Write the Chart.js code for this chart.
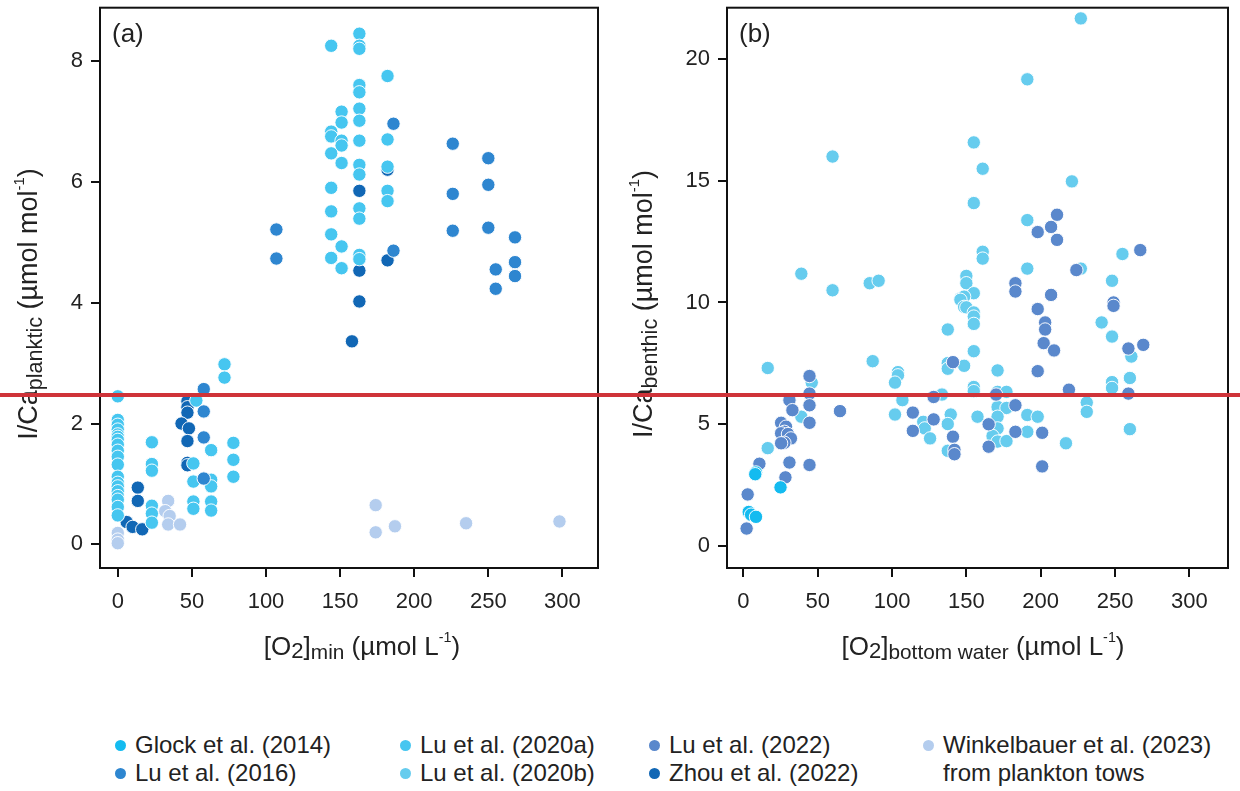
<!DOCTYPE html>
<html><head><meta charset="utf-8">
<script src="https://cdn.jsdelivr.net/npm/chart.js@4"></script>
<style>
body{margin:0;background:#fff;width:1240px;height:791px;overflow:hidden;position:relative;font-family:"Liberation Sans",Arial,sans-serif;}
#wa{position:absolute;left:0;top:0;width:620px;height:700px}
#wb{position:absolute;left:620px;top:0;width:620px;height:700px}
#redline{position:absolute;left:0;top:393px;width:1240px;height:4px;background:#cf3339}
.leg{position:absolute;font-size:24px;color:#222;white-space:nowrap;line-height:28px}
.dot{position:absolute;width:11px;height:11px;border-radius:50%}
</style></head>
<body>
<div id="wa"><canvas id="ca" width="620" height="700"></canvas></div>
<div id="wb"><canvas id="cb" width="620" height="700"></canvas></div>
<div id="legend"></div>
<div id="redline"></div>
<script>
// ---------- data ----------
const xTicks = [0, 50, 100, 150, 200, 250, 300];
const yTicksA = [0, 2, 4, 6, 8];
const yTicksB = [0, 5, 10, 15, 20];

const seriesNames = ["Glock et al. (2014)", "Lu et al. (2016)", "Lu et al. (2020a)", "Lu et al. (2020b)",
  "Lu et al. (2022)", "Zhou et al. (2022)", "Winkelbauer et al. (2023)"];
const seriesColors = ["#14bbf0", "#2e86d0", "#46c6f0", "#66ccee", "#5a88cc", "#1167b5", "#b4cdee"];

// panel (a): planktic
const lu2016A = [[107,5.21],[107,4.73],[186,6.96],[186,4.86],[226,6.63],[226,5.80],[226,5.19],[250,6.39],[250,5.95],[250,5.24],[268,5.08],[268,4.67],[268,4.44],[255,4.55],[255,4.23],[58,2.57],[58,2.2],[58,1.77],[58,1.09]];
const lu2020aA = [[144,8.25],[163,8.45],[163,8.25],[163,8.2],[182,7.75],[163,7.6],[163,7.48],[151,7.16],[151,6.98],[163,7.21],[163,7.01],[144,6.83],[144,6.75],[151,6.68],[151,6.6],[163,6.68],[182,6.70],[144,6.47],[151,6.31],[163,6.28],[163,6.12],[182,6.25],[144,5.9],[182,5.85],[182,5.68],[144,5.51],[163,5.56],[163,5.39],[144,5.13],[151,4.93],[144,4.74],[151,4.57],[163,4.79],[163,4.72],
  [0,2.45],[0,2.06],[0,1.98],[0,1.9],[0,1.82],[0,1.78],[0,1.73],[0,1.65],[0,1.55],[0,1.45],[0,1.32],[0,1.12],[0,1.02],[0,0.96],[0,0.88],[0,0.8],[0,0.74],[0,0.62],[0,0.48],
  [23,1.69],[23,1.33],[23,1.22],[23,0.64],[23,0.51],[23,0.36],
  [53,2.38],[51,1.34],[51,1.04],[51,0.71],[51,0.59],
  [63,1.56],[63,1.07],[63,0.96],[63,0.71],[63,0.56],
  [72,2.98],[72,2.76],[78,1.68],[78,1.40],[78,1.12]];
const zhouA = [[163,5.85],[182,6.2],[163,4.53],[182,4.70],[163,4.02],[158,3.36],[13.5,0.94],[13.5,0.72],[6,0.37],[10,0.29],[16.5,0.25],[47,2.37],[47,2.27],[47,2.18],[43,2.0],[48,1.92],[47,1.71],[47,1.35],[47,1.31]];
const winkelA = [[0,0.19],[0,0.08],[0,0.02],[34,0.72],[32,0.55],[35,0.47],[34,0.33],[42,0.33],[174,0.65],[174,0.2],[187,0.30],[235,0.35],[298,0.38]];

// panel (b): benthic
const glockB = [[8.5,3.02],[8,2.95],[25,2.41],[3.6,1.4],[5.2,1.29],[8.5,1.2]];
const lu2022B = [[211,13.6],[207,13.1],[198,12.89],[211,12.57],[267,12.15],[224,11.33],[183,10.79],[183,10.45],[207,10.31],[249,10.0],[249,9.86],[198,9.73],[203,9.18],[203,8.89],[202,8.33],[209,8.03],[259,8.11],[269,8.26],[198,7.18],[219,6.42],[259,6.26],[170,6.22],[183,5.78],[128,6.12],[141,7.55],[114,5.48],[128,5.2],[114,4.73],[141,4.49],[142,3.95],[142,3.77],[165,5.0],[165,4.08],[183,4.69],[201,4.65],[201,3.27],[65,5.54],[44.5,6.98],[44.5,6.26],[44.5,5.78],[44.5,5.06],[44.5,3.33],[31,5.99],[33,5.58],[25.4,5.06],[28.7,4.9],[27.6,4.69],[25.4,4.63],[30,4.6],[32,4.42],[27.6,4.24],[25.4,4.22],[31,3.43],[28.3,2.82],[10.8,3.38],[2.9,2.12],[2.2,0.72]];
const lu2020bB = [[227,21.66],[191,19.16],[60,15.99],[155,16.57],[161,15.49],[221,14.97],[155,14.08],[191,13.38],[161,12.08],[161,11.8],[255,11.99],[191,11.39],[227,11.39],[39,11.18],[60,10.5],[85,10.79],[91,10.89],[248,10.89],[150,11.09],[150,10.79],[155,10.38],[146,10.16],[148.5,10.24],[16.4,7.31],[16.4,4.02],[39,5.31],[46,6.71],[87,7.59],[104,7.14],[104,7.01],[102,6.71],[107,5.99],[102,5.4],[137.5,8.89],[137.5,7.51],[137.5,7.28],[148.5,7.4],[146,10.11],[148.5,9.82],[150,9.8],[155,9.59],[155,9.42],[155,9.12],[155,8.0],[155,6.53],[155,6.36],[157.5,5.31],[133.6,6.22],[121,5.1],[122,4.83],[125.6,4.42],[139.5,5.4],[137.5,5.01],[137.5,3.91],[171,7.21],[171,6.33],[177,6.33],[171,5.71],[177,5.67],[171,5.31],[171,4.83],[167.6,4.52],[171,4.29],[177,4.31],[191,5.38],[198,5.31],[191,4.69],[217,4.22],[231,5.89],[231,5.51],[241,9.18],[248,8.6],[248,6.73],[248,6.49],[261,7.78],[260,6.9],[260,4.8]];

// ---------- helpers ----------
const FONT = '"Liberation Sans", Arial, sans-serif';
function toPts(arr){ return arr.map(p => ({x:p[0], y:p[1]})); }
function ds(data, idx){
  return {label: seriesNames[idx], data: toPts(data), backgroundColor: seriesColors[idx],
    borderColor: 'rgba(255,255,255,0.95)', borderWidth: 1, pointRadius: 6.7, pointHoverRadius: 6.7};
}
const styles = {n:{s:1,dy:0}, sub:{s:0.8,dy:0.22}, sub2:{s:0.85,dy:0.15}, sup:{s:0.55,dy:-0.38}};
function drawRich(ctx, parts, cx, cy, size){
  let w = 0;
  parts.forEach(p => { ctx.font = (size*styles[p[1]].s) + 'px ' + FONT; w += ctx.measureText(p[0]).width; });
  let x = cx - w/2;
  ctx.textBaseline = 'middle'; ctx.textAlign = 'left';
  parts.forEach(p => { const st = styles[p[1]]; ctx.font = (size*st.s) + 'px ' + FONT;
    ctx.fillText(p[0], x, cy + st.dy*size); x += ctx.measureText(p[0]).width; });
}

function panelPlugin(label, xParts, yParts, xTitleCx, yTitleX){
  return {id:'panel', afterDraw(chart){
    const {ctx, chartArea:a} = chart;
    ctx.save();
    ctx.strokeStyle = '#111'; ctx.lineWidth = 2;
    ctx.strokeRect(a.left, a.top, a.right-a.left, a.bottom-a.top);
    ctx.fillStyle = '#222';
    ctx.font = '26px ' + FONT; ctx.textAlign='left'; ctx.textBaseline='middle';
    ctx.fillText(label, a.left + 12, a.top + 27);
    drawRich(ctx, xParts, xTitleCx, 648, 26);
    ctx.translate(yTitleX, 304); ctx.rotate(-Math.PI/2);
    drawRich(ctx, yParts, 0, 0, 27);
    ctx.restore();
  }};
}

function makeChart(id, datasets, xr, yr, yTicks, yWidth, padRight, plugin){
  const tickSetter = vals => s => { s.ticks = vals.map(v => ({value:v})); };
  return new Chart(document.getElementById(id), {
    type:'scatter',
    data:{datasets},
    options:{
      responsive:false, animation:false, events:[],
      layout:{padding:{top:5, right:padRight, left:0, bottom:0}},
      plugins:{legend:{display:false}, tooltip:{enabled:false}},
      scales:{
        x:{type:'linear', min:xr[0], max:xr[1],
          afterBuildTicks: tickSetter(xTicks),
          afterFit: s => { s.height = 132; s.paddingLeft = 0; s.paddingRight = 0; },
          grid:{drawOnChartArea:false, drawTicks:true, tickLength:9, color:'#111', lineWidth:2},
          border:{display:true, color:'#111', width:2},
          ticks:{font:{size:22, family:FONT}, color:'#222', padding:12, maxRotation:0, autoSkip:false}},
        y:{type:'linear', min:yr[0], max:yr[1],
          afterBuildTicks: tickSetter(yTicks),
          afterFit: s => { s.width = yWidth; s.paddingTop = 0; s.paddingBottom = 0; },
          grid:{drawOnChartArea:false, drawTicks:true, tickLength:9, color:'#111', lineWidth:2},
          border:{display:true, color:'#111', width:2},
          ticks:{font:{size:22, family:FONT}, color:'#222', padding:8, autoSkip:false}}
      }
    },
    plugins:[plugin]
  });
}

makeChart('ca', [ds(lu2016A,1), ds(lu2020aA,2), ds(zhouA,5), ds(winkelA,6)],
  [-12, 324], [-0.39, 8.88], yTicksA, 100, 22,
  panelPlugin('(a)', [['[O','n'],['2','sub2'],[']','n'],['min','sub'],[' (µmol L','n'],['-1','sup'],[')','n']],
    [['I/Ca','n'],['planktic','sub'],[' (µmol mol','n'],['-1','sup'],[')','n']], 362, 30));
makeChart('cb', [ds(glockB,0), ds(lu2022B,4), ds(lu2020bB,3)],
  [-11, 326], [-0.9, 22.1], yTicksB, 107, 12,
  panelPlugin('(b)', [['[O','n'],['2','sub2'],[']','n'],['bottom water','sub'],[' (µmol L','n'],['-1','sup'],[')','n']],
    [['I/Ca','n'],['benthic','sub'],[' (µmol mol','n'],['-1','sup'],[')','n']], 363, 25));

// ---------- legend (column-major, 2 rows) ----------
const legendOrder = [[0,1],[2,3],[4,5],[6]];
const colLeft = [115, 400, 649, 923];
const rowTop = [731, 759];
const leg = document.getElementById('legend');
legendOrder.forEach((col, ci) => col.forEach((si, ri) => {
  const d = document.createElement('div'); d.className='dot';
  d.style.left = colLeft[ci] + 'px'; d.style.top = (rowTop[ri] + 9) + 'px'; d.style.background = seriesColors[si];
  leg.appendChild(d);
  const t = document.createElement('div'); t.className='leg';
  t.style.left = (colLeft[ci] + 20) + 'px'; t.style.top = rowTop[ri] + 'px'; t.textContent = seriesNames[si];
  leg.appendChild(t);
}));
const extra = document.createElement('div'); extra.className='leg';
extra.style.left = (colLeft[3] + 20) + 'px'; extra.style.top = rowTop[1] + 'px'; extra.textContent = 'from plankton tows';
leg.appendChild(extra);
</script>
</body></html>
